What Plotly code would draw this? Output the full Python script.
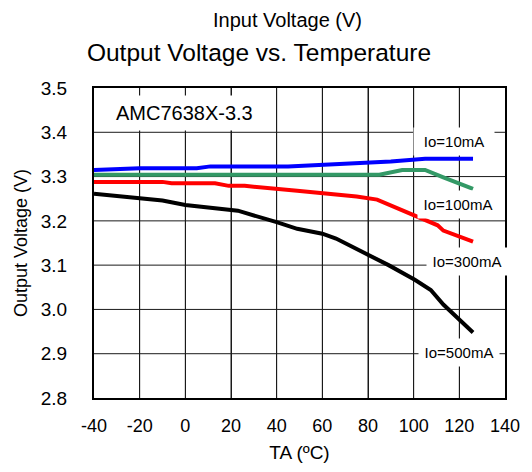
import plotly.graph_objects as go

temp_10 = [-40, -20, 5, 11, 45, 60, 80, 90, 105, 126]
vout_10 = [3.315, 3.319, 3.319, 3.323, 3.323, 3.326, 3.330, 3.334, 3.340, 3.340]

temp_100 = [-40, 0, 40, 85, 95, 105, 113, 126]
vout_100 = [3.304, 3.304, 3.304, 3.304, 3.315, 3.315, 3.298, 3.272]

temp_300 = [-40, -10, -6, 13, 19, 26, 49, 75, 84, 101, 110.5, 113, 126]
vout_300 = [3.288, 3.288, 3.285, 3.285, 3.279, 3.279, 3.268, 3.255, 3.248, 3.212, 3.190, 3.178, 3.153]

temp_500 = [-40, -10, 0, 23, 40, 49, 60, 66, 89, 100.5, 107.5, 113, 126]
vout_500 = [3.261, 3.246, 3.236, 3.223, 3.197, 3.182, 3.171, 3.160, 3.100, 3.067, 3.044, 3.011, 2.948]

series_names = ["Io=10mA", "Io=100mA", "Io=300mA", "Io=500mA"]
series_colors = ["#0000ff", "#339966", "#ff0000", "#000000"]
series_x = [temp_10, temp_100, temp_300, temp_500]
series_y = [vout_10, vout_100, vout_300, vout_500]

label_x = [117.8, 119.4, 123.4, 119.9]
label_y = [3.380, 3.236, 3.108, 2.903]

x_ticks = [-40, -20, 0, 20, 40, 60, 80, 100, 120, 140]
y_ticks = [2.8, 2.9, 3.0, 3.1, 3.2, 3.3, 3.4, 3.5]

FONT = "Liberation Sans, Arial, sans-serif"
BLACK = "#000000"

W, H = 524, 464
L, R, T, B = 83, 24, 80, 71
PW, PH = W - L - R, H - T - B

fig = go.Figure()
for name, x, y, c in zip(series_names, series_x, series_y, series_colors):
    fig.add_trace(go.Scatter(x=x, y=y, mode="lines", name=name,
                             line=dict(color=c, width=4), showlegend=False))

shapes = []
for v in x_ticks[1:-1]:
    shapes.append(dict(type="line", xref="x", yref="y", x0=v, x1=v,
                       y0=y_ticks[0], y1=y_ticks[-1],
                       line=dict(color="#1a1a1a", width=1), layer="below"))
for v in y_ticks[1:-1]:
    shapes.append(dict(type="line", xref="x", yref="y", x0=x_ticks[0], x1=x_ticks[-1],
                       y0=v, y1=v,
                       line=dict(color="#1a1a1a", width=1), layer="below"))

annotations = [
    dict(text="AMC7638X-3.3", x=-0.35, y=3.443, xref="x", yref="y", showarrow=False,
         font=dict(size=20, color=BLACK, family=FONT), bgcolor="white", borderpad=6),
    dict(text="Input Voltage (V)", x=(279.5 - L) / PW, y=1 + (T - 11) / PH,
         xref="paper", yref="paper", xanchor="center", yanchor="middle", showarrow=False,
         font=dict(size=20, color=BLACK, family=FONT)),
]
for t, lx, ly in zip(series_names, label_x, label_y):
    annotations.append(dict(text=t, x=lx, y=ly, xref="x", yref="y", showarrow=False,
                            font=dict(size=15, color=BLACK, family=FONT), bgcolor="white",
                            width=70, borderpad=5))

fig.update_layout(
    width=W, height=H,
    margin=dict(l=L, r=R, t=T, b=B),
    paper_bgcolor="white", plot_bgcolor="white",
    title=dict(text="Output Voltage vs. Temperature", x=251 / W, xanchor="center",
               y=1 - 44 / H, yanchor="middle",
               font=dict(size=24.5, color=BLACK, family=FONT)),
    font=dict(family=FONT, color=BLACK),
    annotations=annotations,
    shapes=shapes,
    xaxis=dict(range=[-40, 140], tickvals=x_ticks, ticktext=[str(v) for v in x_ticks],
               showgrid=True, gridcolor="#1a1a1a", gridwidth=1, zeroline=False,
               showline=True, linecolor=BLACK, linewidth=2, mirror=True,
               ticks="", tickfont=dict(size=18, family=FONT, color=BLACK),
               ticklabelstandoff=10,
               title=dict(text="TA (ºC)", font=dict(size=19, family=FONT, color=BLACK), standoff=11)),
    yaxis=dict(range=[2.8, 3.5], tickvals=y_ticks, ticktext=[f"{v:.1f}" for v in y_ticks],
               showgrid=False, zeroline=False,
               showline=True, linecolor=BLACK, linewidth=2, mirror=True,
               ticks="", tickfont=dict(size=19, family=FONT, color=BLACK),
               ticklabelstandoff=21,
               title=dict(text="Output Voltage (V)", font=dict(size=18, family=FONT, color=BLACK), standoff=8)),
)

fig.write_html("out.html")
